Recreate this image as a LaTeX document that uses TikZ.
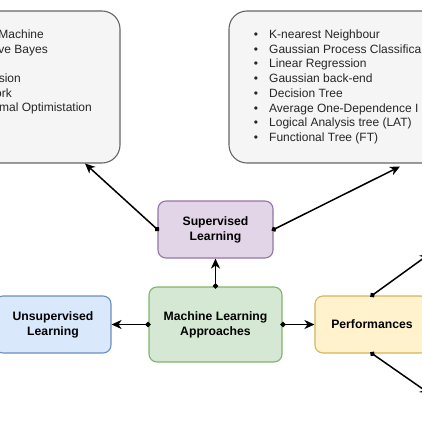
\documentclass[tikz,border=0pt]{standalone}
\usepackage{fontspec}
\setmainfont{Liberation Sans}
\usetikzlibrary{arrows.meta}

\definecolor{lstfill}{HTML}{F5F5F5}
\definecolor{lstdraw}{HTML}{666666}
\definecolor{supfill}{HTML}{E1D5E7}
\definecolor{supdraw}{HTML}{9673A6}
\definecolor{mlfill}{HTML}{D5E8D4}
\definecolor{mldraw}{HTML}{82B366}
\definecolor{unsfill}{HTML}{DAE8FC}
\definecolor{unsdraw}{HTML}{6C8EBF}
\definecolor{perffill}{HTML}{FFF2CC}
\definecolor{perfdraw}{HTML}{D6B656}

\begin{document}
\begin{tikzpicture}[x=1pt,y=-1pt,
  font=\fontsize{12}{14.7}\selectfont,
  box/.style={draw, rounded corners=8pt, line width=1.1pt, align=center,
    inner sep=0pt, font=\fontsize{12.2}{14.9}\selectfont\bfseries},
  lstbox/.style={draw=lstdraw, fill=lstfill, rounded corners=18pt,
    line width=1.1pt, inner sep=0pt},
  item/.style={anchor=base west, inner sep=0pt, text=black!85},
  link/.style={line width=1.5pt, shorten <=-2pt,
    {Circle[length=5pt]}-{Stealth[length=10pt,width=9pt,inset=3pt]}}
]

\useasboundingbox (0,0) rectangle (422,422);
\clip (0,0) rectangle (422,422);

% list boxes (cut by the frame)
\node[lstbox, minimum width=180pt, minimum height=152pt] (leftlist) at (30,87) {};
\node[lstbox, minimum width=252pt, minimum height=152pt] (rightlist) at (355,87) {};

% left list, only the ends of the lines show
\node[item, anchor=base east] (l1) at (44,38.5) {Machine};
\node[item, anchor=base east] (l2) at (48,53.2) {ve Bayes};
\node[item, anchor=base east] (l4) at (21,82.6) {sion};
\node[item, anchor=base east] (l5) at (12,97.3) {ork};
\node[item, anchor=base east] (l6) at (92,112) {mal Optimistation};

% right list
\foreach \i/\txt in {0/K-nearest Neighbour,1/Gaussian Process Classifica,
    2/Linear Regression,3/Gaussian back-end,4/Decision Tree,
    5/Average One-Dependence I,6/Logical Analysis tree (LAT),
    7/Functional Tree (FT)}{
  \node[item, anchor=base] (b\i) at (256,38.5+14.71*\i) {•};
  \node[item] (r\i) at (269,38.5+14.71*\i) {\txt};
}

% boxes
\node[box, fill=supfill, draw=supdraw, minimum width=115pt, minimum height=57pt]
  (sup) at (215.5,229.5) {Supervised\\Learning};
\node[box, fill=mlfill, draw=mldraw, minimum width=133pt, minimum height=75pt]
  (ml) at (215.5,324.5) {Machine Learning\\Approaches};
\node[box, fill=unsfill, draw=unsdraw, minimum width=116pt, minimum height=57pt]
  (uns) at (53,324.5) {Unsupervised\\Learning};
\node[box, fill=perffill, draw=perfdraw, minimum width=114pt, minimum height=57pt]
  (perf) at (372,324.5) {Performances};

% free ends
\coordinate (lefttip) at (85,163.5);
\coordinate (righttip) at (400,166.5);
\coordinate (uptip) at (430,253.5);
\coordinate (downtip) at (430,394);

% connectors
\draw[link] (ml.north) -- (sup.south);
\draw[link] (ml.west) -- (uns.east);
\draw[link] (ml.east) -- (perf.west);
\draw[link] (sup.west) -- (lefttip);
\draw[link] (sup.east) -- (righttip);
\draw[link] (perf.north) -- (uptip);
\draw[link] (perf.south) -- (downtip);

\end{tikzpicture}
\end{document}
